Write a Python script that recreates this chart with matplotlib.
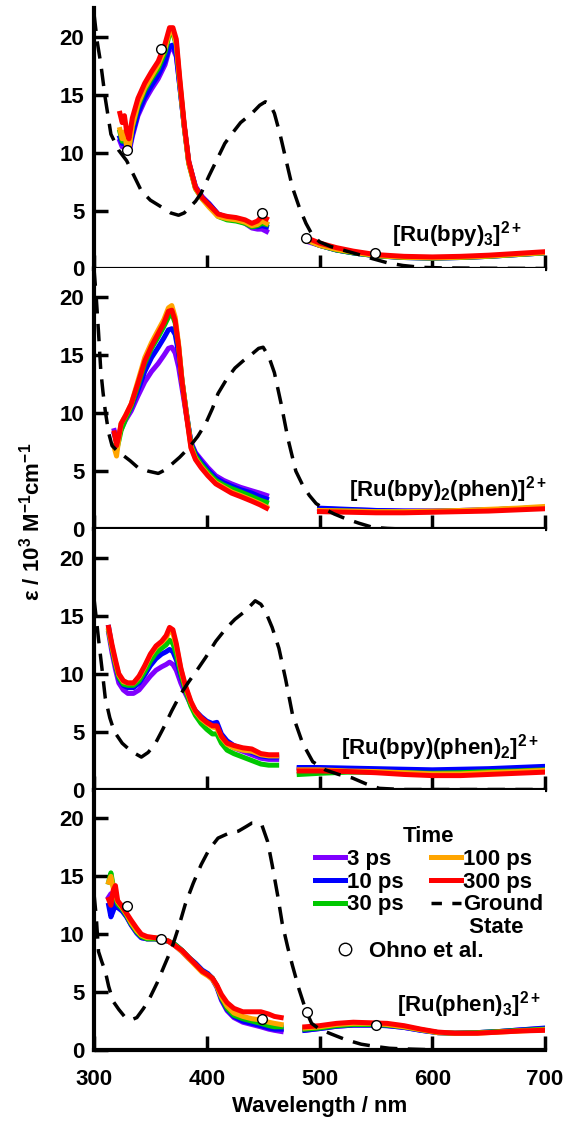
import numpy as np
import matplotlib
matplotlib.use("Agg")
import matplotlib.pyplot as plt
from matplotlib.lines import Line2D

plt.rcParams.update({
    "font.family": "Liberation Sans", "font.weight": "bold", "font.size": 16,
    "axes.labelweight": "bold",
    "mathtext.fontset": "custom", "mathtext.rm": "Liberation Sans:bold",
    "mathtext.it": "Liberation Sans:bold", "mathtext.bf": "Liberation Sans:bold",
    "mathtext.default": "rm",
})

times = ["3 ps", "10 ps", "30 ps", "100 ps", "300 ps"]
colors = ["#8000ff", "#0000ff", "#00c800", "#ffa500", "#ff0000"]

# ---- [Ru(bpy)3]2+ ----
p1_wl_a = [323, 325, 327, 329, 331, 334, 339, 345, 351, 357, 363, 367, 370, 373,
           376, 380, 384, 390, 396, 402, 410, 418, 426, 434, 440, 445, 449, 453]
p1_a = [
    [11.0, 10.5, 10.9, 10.1, 10.0, 11.4, 13.2, 14.5, 15.5, 16.4, 17.6, 19.0, 19.0, 18.3,
     15.8, 12.3, 9.2, 7.1, 6.2, 5.6, 4.7, 4.4, 4.2, 3.9, 3.5, 3.4, 3.4, 3.2],
    [11.3, 10.8, 11.2, 10.4, 10.2, 11.6, 13.4, 14.8, 15.8, 16.7, 17.9, 19.2, 19.3, 18.5,
     15.8, 12.3, 9.2, 7.0, 6.1, 5.6, 4.7, 4.4, 4.2, 4.0, 3.7, 3.6, 3.7, 3.6],
    [11.8, 11.0, 11.5, 10.6, 10.5, 12.2, 14.0, 15.4, 16.4, 17.3, 18.7, 20.3, 20.3, 19.3,
     16.1, 12.3, 9.1, 6.9, 6.0, 5.4, 4.5, 4.2, 4.1, 3.9, 3.6, 3.7, 3.9, 3.8],
    [12.0, 11.2, 11.8, 10.5, 10.3, 12.3, 14.2, 15.6, 16.6, 17.6, 19.0, 20.5, 20.5, 19.4,
     16.2, 12.3, 9.1, 6.9, 6.0, 5.3, 4.5, 4.3, 4.2, 4.0, 3.7, 3.8, 4.1, 3.9],
    [13.4, 12.6, 13.2, 11.8, 11.2, 13.0, 14.7, 16.0, 17.0, 17.9, 19.4, 20.8, 20.8, 19.8,
     16.5, 12.5, 9.3, 7.0, 6.1, 5.5, 4.7, 4.5, 4.4, 4.2, 3.9, 4.1, 4.5, 4.3],
]
p1_wl_b = [490, 500, 515, 530, 550, 575, 600, 625, 650, 675, 700]
p1_b = [
    [2.3, 2.0, 1.6, 1.35, 1.1, 0.95, 0.9, 0.95, 1.05, 1.2, 1.35],
    [2.4, 2.0, 1.6, 1.35, 1.1, 0.95, 0.9, 0.95, 1.05, 1.2, 1.35],
    [2.4, 2.0, 1.6, 1.35, 1.1, 0.95, 0.9, 0.95, 1.05, 1.2, 1.35],
    [2.4, 2.0, 1.65, 1.4, 1.12, 0.97, 0.92, 0.97, 1.07, 1.22, 1.37],
    [2.6, 2.2, 1.8, 1.5, 1.2, 1.05, 1.0, 1.05, 1.15, 1.3, 1.45],
]
p1_gs_wl = [300, 303, 306, 310, 315, 322, 329, 336, 342, 350, 360, 368, 375, 380, 384,
            390, 395, 402, 410, 416, 422, 430, 440, 447, 452, 456, 460, 465, 470, 476,
            482, 488, 493, 500, 510, 524, 535, 547, 560, 574, 590, 610, 650, 700]
p1_gs = [22.0, 19.5, 17.7, 14.7, 11.6, 10.2, 9.3, 7.9, 6.7, 5.9, 5.3, 4.8, 4.6, 4.8, 5.2,
         5.8, 6.5, 8.0, 9.6, 10.8, 11.6, 12.6, 13.4, 14.1, 14.4, 14.2, 13.4, 11.6, 9.5, 7.0,
         5.3, 3.9, 3.0, 2.3, 1.9, 1.5, 1.2, 0.85, 0.5, 0.26, 0.1, 0.05, 0.02, 0.0]
p1_ohno_wl = [329, 359, 449, 488, 549]
p1_ohno = [10.2, 19.0, 4.8, 2.6, 1.3]

# ---- [Ru(bpy)2(phen)]2+ ----
p2_wl_a = [318, 320, 322, 324, 328, 333, 339, 345, 351, 357, 362, 366, 369, 372,
           375, 378, 382, 386, 390, 395, 401, 408, 415, 422, 430, 440, 447, 453]
p2_a = [
    [8.5, 7.8, 8.0, 8.6, 9.4, 10.2, 11.5, 12.7, 13.6, 14.3, 15.0, 15.6, 15.7, 15.2,
     14.0, 12.2, 9.8, 7.5, 6.6, 6.0, 5.3, 4.6, 4.2, 3.9, 3.6, 3.3, 3.1, 2.9],
    [8.2, 7.6, 8.0, 8.8, 9.6, 10.5, 12.0, 13.6, 14.8, 15.7, 16.5, 17.2, 17.3, 16.8,
     15.2, 12.8, 10.0, 7.4, 6.5, 5.8, 5.1, 4.4, 4.0, 3.7, 3.4, 3.1, 2.8, 2.6],
    [7.2, 6.8, 7.6, 8.5, 9.5, 10.6, 12.4, 14.3, 15.6, 16.6, 17.5, 18.3, 18.6, 17.8,
     15.8, 12.9, 10.0, 7.3, 6.3, 5.6, 4.9, 4.2, 3.8, 3.5, 3.2, 2.8, 2.5, 2.3],
    [7.0, 6.3, 7.8, 9.1, 9.8, 10.8, 12.8, 14.8, 16.1, 17.2, 18.1, 19.1, 19.3, 18.3,
     16.0, 12.9, 9.9, 7.1, 6.1, 5.4, 4.7, 4.0, 3.6, 3.2, 2.9, 2.5, 2.2, 1.9],
    [8.3, 7.2, 8.0, 9.1, 9.8, 10.8, 12.6, 14.5, 15.8, 16.9, 17.8, 18.8, 18.9, 18.0,
     15.8, 12.8, 9.8, 7.0, 6.0, 5.3, 4.6, 3.9, 3.5, 3.1, 2.8, 2.4, 2.1, 1.8],
]
p2_wl_b = [500, 525, 550, 575, 600, 625, 650, 675, 700]
p2_b = [
    [1.75, 1.65, 1.6, 1.55, 1.55, 1.6, 1.65, 1.75, 1.85],
    [1.8, 1.7, 1.6, 1.55, 1.55, 1.6, 1.65, 1.75, 1.85],
    [1.6, 1.55, 1.5, 1.5, 1.5, 1.55, 1.65, 1.75, 1.85],
    [1.6, 1.55, 1.5, 1.5, 1.55, 1.6, 1.7, 1.8, 1.95],
    [1.5, 1.45, 1.4, 1.4, 1.45, 1.5, 1.55, 1.65, 1.75],
]
p2_gs_wl = [300, 302, 304, 306, 308, 310, 313, 316, 320, 324, 332, 339, 348, 357, 363,
            369, 376, 384, 392, 399, 405, 410, 418, 425, 432, 440, 446, 450, 455, 460,
            466, 472, 479, 485, 491, 497, 505, 513, 523, 535, 547, 560, 573, 600, 700]
p2_gs = [22.5, 20.0, 17.0, 13.7, 11.8, 10.2, 8.3, 7.2, 6.8, 6.5, 5.9, 5.3, 5.0, 4.8, 5.1,
         5.6, 6.2, 7.0, 8.0, 9.1, 10.4, 11.7, 13.0, 13.9, 14.5, 15.1, 15.6, 15.7, 14.9, 13.5,
         10.8, 7.8, 5.0, 3.8, 2.9, 2.2, 1.7, 1.3, 0.9, 0.5, 0.15, 0.05, 0.0, 0.0, 0.0]

# ---- [Ru(bpy)(phen)2]2+ ----
p3_wl_a = [313, 316, 319, 322, 326, 330, 335, 340, 345, 350, 355, 360, 364, 367, 370, 373,
           377, 381, 386, 390, 395, 400, 405, 409, 413, 418, 424, 432, 440, 448, 455, 462]
p3_a = [
    [13.5, 11.8, 10.4, 9.2, 8.6, 8.3, 8.3, 8.6, 9.2, 9.8, 10.3, 10.6, 10.8, 11.0, 10.8, 10.3,
     9.2, 8.3, 7.3, 6.7, 6.2, 5.8, 5.5, 5.5, 4.6, 4.0, 3.6, 3.3, 3.0, 2.7, 2.6, 2.6],
    [14.0, 12.2, 10.8, 9.6, 9.0, 8.8, 8.8, 9.2, 9.9, 10.7, 11.3, 11.7, 11.9, 12.1, 11.9, 11.2,
     9.8, 8.6, 7.4, 6.8, 6.3, 5.9, 5.7, 5.8, 4.8, 4.2, 3.8, 3.5, 3.2, 2.9, 2.8, 2.8],
    [13.7, 12.2, 10.8, 9.7, 9.1, 9.0, 9.0, 9.4, 10.2, 11.1, 11.8, 12.2, 12.5, 12.9, 12.6, 11.7,
     10.0, 8.6, 7.2, 6.4, 5.7, 5.2, 4.8, 4.8, 4.0, 3.4, 3.1, 2.8, 2.5, 2.2, 2.1, 2.1],
    [13.8, 12.3, 11.0, 9.9, 9.3, 9.2, 9.2, 9.7, 10.6, 11.6, 12.3, 12.7, 13.1, 13.7, 13.5, 12.4,
     10.4, 8.9, 7.5, 6.7, 6.1, 5.7, 5.4, 5.3, 4.5, 3.9, 3.6, 3.4, 3.3, 3.0, 2.9, 2.9],
    [14.0, 12.5, 11.2, 10.0, 9.4, 9.2, 9.2, 9.8, 10.7, 11.7, 12.4, 12.8, 13.3, 14.0, 13.8, 12.6,
     10.5, 9.0, 7.6, 6.8, 6.2, 5.8, 5.5, 5.5, 4.6, 4.0, 3.8, 3.6, 3.5, 3.1, 3.0, 3.0],
]
p3_wl_b = [482, 500, 525, 550, 575, 600, 625, 650, 675, 700]
p3_b = [
    [1.8, 1.8, 1.75, 1.7, 1.65, 1.6, 1.65, 1.7, 1.8, 1.9],
    [1.9, 1.9, 1.85, 1.8, 1.75, 1.7, 1.75, 1.8, 1.9, 2.0],
    [1.3, 1.4, 1.5, 1.5, 1.45, 1.4, 1.45, 1.55, 1.6, 1.7],
    [1.7, 1.7, 1.6, 1.55, 1.45, 1.35, 1.35, 1.45, 1.55, 1.65],
    [1.6, 1.6, 1.55, 1.45, 1.3, 1.2, 1.2, 1.3, 1.4, 1.5],
]
p3_gs_wl = [300, 302, 304, 307, 310, 314, 318, 325, 333, 342, 348, 354, 361, 369, 376, 384,
            392, 399, 408, 417, 425, 434, 440, 443, 448, 452, 458, 464, 470, 476, 485, 494,
            505, 517, 529, 541, 553, 573, 700]
p3_gs = [16.5, 14.8, 13.0, 10.5, 7.9, 6.2, 5.0, 4.0, 3.3, 2.8, 3.2, 3.9, 5.2, 6.8, 8.1, 9.3,
         10.4, 11.4, 12.8, 13.9, 14.7, 15.4, 16.0, 16.3, 16.0, 15.4, 14.0, 12.2, 9.5, 6.5, 4.0, 2.4,
         1.7, 1.3, 1.0, 0.5, 0.1, 0.0, 0.0]

# ---- [Ru(phen)3]2+ ----
p4_wl_a = [313, 315, 317, 319, 321, 325, 329, 333, 338, 342, 347, 354, 360, 366, 372, 378,
           384, 390, 396, 401, 405, 409, 413, 418, 424, 432, 440, 448, 455, 460, 466]
p4_a = [
    [13.2, 13.5, 13.0, 12.8, 12.5, 12.1, 11.5, 10.8, 10.1, 9.7, 9.6, 9.6, 9.5, 9.4, 9.0, 8.5,
     7.9, 7.4, 6.8, 6.5, 6.1, 5.4, 4.3, 3.4, 2.8, 2.4, 2.2, 2.0, 1.8, 1.7, 1.6],
    [12.5, 11.5, 12.0, 12.6, 12.3, 12.0, 11.5, 10.8, 10.1, 9.7, 9.6, 9.6, 9.5, 9.4, 9.1, 8.6,
     8.0, 7.5, 6.9, 6.6, 6.2, 5.5, 4.4, 3.5, 2.9, 2.5, 2.3, 2.1, 1.9, 1.8, 1.8],
    [14.5, 15.3, 14.2, 13.2, 12.6, 12.2, 11.6, 10.9, 10.2, 9.8, 9.6, 9.6, 9.5, 9.4, 9.1, 8.6,
     8.0, 7.4, 6.8, 6.5, 6.2, 5.5, 4.5, 3.6, 3.0, 2.7, 2.5, 2.3, 2.1, 2.0, 2.0],
    [14.5, 15.0, 14.0, 13.4, 12.8, 12.3, 11.7, 11.0, 10.3, 9.9, 9.7, 9.7, 9.6, 9.4, 9.0, 8.5,
     7.9, 7.3, 6.7, 6.4, 6.1, 5.5, 4.6, 3.8, 3.2, 2.9, 2.7, 2.6, 2.4, 2.3, 2.2],
    [13.0, 12.5, 13.8, 14.2, 12.9, 12.4, 11.8, 11.2, 10.5, 10.0, 9.8, 9.7, 9.6, 9.4, 9.0, 8.6,
     8.0, 7.4, 6.8, 6.5, 6.2, 5.6, 4.8, 4.1, 3.6, 3.3, 3.3, 3.3, 3.1, 2.9, 2.8],
]
p4_wl_b = [487, 500, 515, 530, 545, 560, 575, 590, 605, 620, 640, 660, 680, 700]
p4_b = [
    [1.7, 1.85, 2.05, 2.15, 2.15, 2.1, 1.95, 1.7, 1.5, 1.45, 1.5, 1.6, 1.75, 1.85],
    [1.7, 1.85, 2.05, 2.15, 2.15, 2.1, 1.95, 1.7, 1.5, 1.45, 1.5, 1.6, 1.75, 1.9],
    [1.8, 1.9, 2.1, 2.2, 2.2, 2.15, 2.0, 1.75, 1.5, 1.45, 1.5, 1.6, 1.7, 1.8],
    [1.9, 2.0, 2.2, 2.3, 2.3, 2.2, 2.0, 1.75, 1.5, 1.45, 1.45, 1.55, 1.65, 1.75],
    [2.0, 2.1, 2.3, 2.4, 2.35, 2.3, 2.1, 1.8, 1.55, 1.45, 1.45, 1.55, 1.65, 1.7],
]
p4_gs_wl = [300, 302, 304, 307, 310, 313, 317, 322, 327, 333, 338, 344, 350, 356, 362, 369,
            375, 381, 388, 395, 402, 410, 419, 428, 435, 440, 445, 449, 454, 458, 463, 467,
            472, 476, 482, 488, 493, 500, 510, 523, 537, 550, 562, 573, 600, 700]
p4_gs = [13.5, 11.5, 8.5, 7.6, 6.8, 5.5, 4.2, 3.5, 2.9, 2.6, 2.8, 3.6, 4.6, 5.8, 7.2, 8.8,
         10.6, 12.6, 14.4, 16.0, 17.3, 18.3, 18.7, 18.9, 19.3, 19.6, 19.6, 19.4, 18.0, 16.0, 13.3, 10.9,
         8.8, 7.3, 5.2, 3.4, 2.3, 1.8, 1.4, 0.9, 0.5, 0.3, 0.15, 0.1, 0.02, 0.0]
p4_ohno_wl = [329, 359, 449, 489, 550]
p4_ohno = [12.4, 9.6, 2.7, 3.3, 2.2]

labels = [r"[Ru(bpy)$_3$]$^{2+}$", r"[Ru(bpy)$_2$(phen)]$^{2+}$",
          r"[Ru(bpy)(phen)$_2$]$^{2+}$", r"[Ru(phen)$_3$]$^{2+}$"]
label_xy = [(564, 2.3), (526, 2.8), (519, 3.0), (569, 3.3)]

panels = [
    (p1_wl_a, p1_a, p1_wl_b, p1_b, p1_gs_wl, p1_gs, p1_ohno_wl, p1_ohno),
    (p2_wl_a, p2_a, p2_wl_b, p2_b, p2_gs_wl, p2_gs, None, None),
    (p3_wl_a, p3_a, p3_wl_b, p3_b, p3_gs_wl, p3_gs, None, None),
    (p4_wl_a, p4_a, p4_wl_b, p4_b, p4_gs_wl, p4_gs, p4_ohno_wl, p4_ohno),
]

fig = plt.figure(figsize=(5.69, 11.26), dpi=100)
L, W = 94 / 569, 451 / 569
H = 260.5 / 1126
B0 = (1126 - 1050) / 1126
axes = [fig.add_axes([L, B0 + (3 - i) * H, W, H]) for i in range(4)]

for i, (ax, p) in enumerate(zip(axes, panels)):
    wa, ya, wb, yb, gw, gy, ow, oy = p
    lines = []
    for k in range(5):
        ln, = ax.plot(wa, ya[k], color=colors[k], lw=3.6, solid_joinstyle="round")
        ax.plot(wb, yb[k], color=colors[k], lw=3.6, solid_joinstyle="round")
        lines.append(ln)
    ax.plot(gw, gy, color="black", lw=2.5, dashes=(5, 3))
    if ow is not None:
        ax.plot(ow, oy, "o", mfc="white", mec="black", mew=1.0, ms=7, zorder=5)
    ax.text(*label_xy[i], labels[i], fontsize=16, ha="left", va="baseline")

    ax.set_xlim(300, 700)
    ax.set_ylim(0, 22.5)
    ax.set_xticks([300, 400, 500, 600, 700])
    ax.set_yticks([0, 5, 10, 15, 20])
    for s in ["top", "right"]:
        ax.spines[s].set_visible(False)
    for s in ["left", "bottom"]:
        ax.spines[s].set_linewidth(3)
    ax.tick_params(axis="both", direction="in", length=10, width=2.5, labelsize=16)
    ax.tick_params(axis="x", pad=14)
    ax.tick_params(axis="y", pad=7)
    if i < 3:
        ax.tick_params(axis="x", labelbottom=False)

# legend: two columns, "State" is the second line of the ground-state label
ax4 = axes[3]
gs_h = Line2D([], [], color="black", lw=2.5, dashes=(3, 3))
blank = Line2D([], [], ls="none")
leg_handles = lines[:3] + [blank] + lines[3:] + [gs_h, blank]
leg_labels = times[:3] + [""] + times[3:] + ["Ground", " State"]
leg = ax4.legend(leg_handles, leg_labels, ncol=2, title="Time",
                 loc="upper left", bbox_to_anchor=(0.49, 0.86), frameon=False,
                 handlelength=1.35, handletextpad=0.1, columnspacing=1.2,
                 labelspacing=0.08, borderpad=0, borderaxespad=0,
                 title_fontsize=16, fontsize=16)
ax4.add_artist(leg)
ohno_h = Line2D([], [], ls="none", marker="o", mfc="white", mec="black", mew=1.0, ms=9)
ax4.legend([ohno_h], ["Ohno et al."], loc="upper left", bbox_to_anchor=(0.532, 0.418),
           frameon=False, handlelength=1.0, handletextpad=0.6, borderpad=0,
           borderaxespad=0, fontsize=16)

ax4.set_xlabel("Wavelength / nm", fontsize=16, fontweight="bold", labelpad=4)
fig.text(32 / 569, 1 - 522 / 1126, r"ε / 10$^3$ M$^{-1}$cm$^{-1}$", rotation=90,
         ha="center", va="center", fontsize=16)

fig.savefig("out.png", dpi=100)
